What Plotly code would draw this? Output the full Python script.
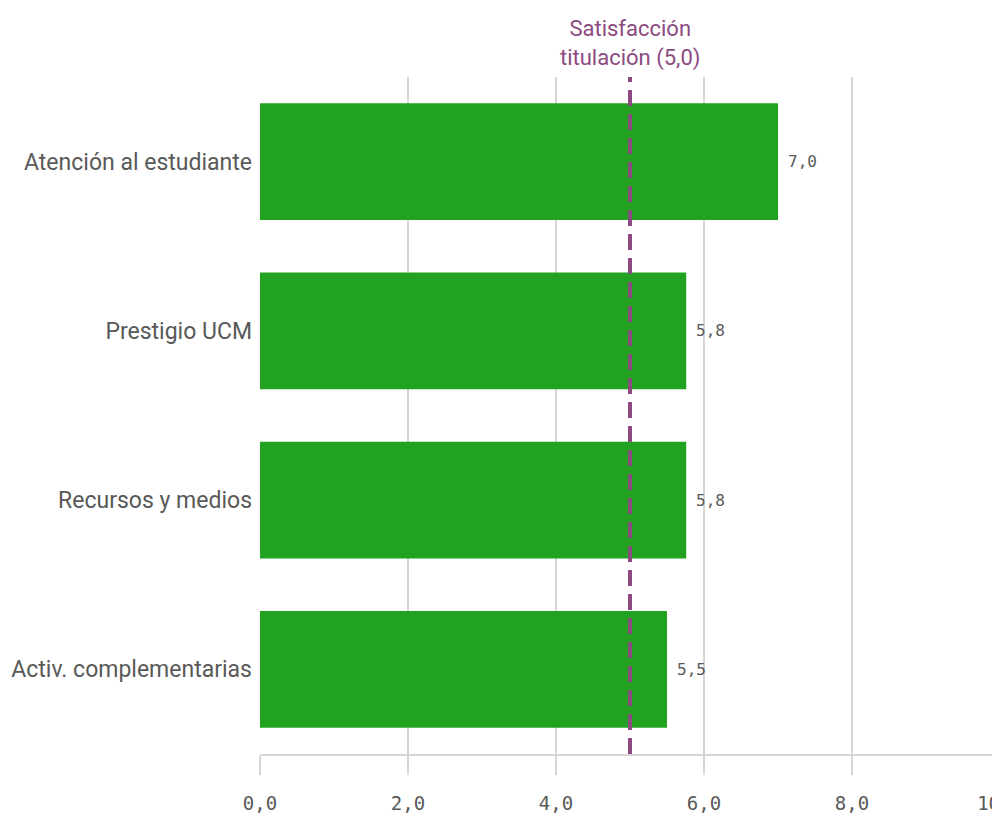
import plotly.graph_objects as go

categories = ["Atención al estudiante", "Prestigio UCM", "Recursos y medios", "Activ. complementarias"]
values = [7.0, 5.76, 5.76, 5.5]
reference_value = 5.0
reference_label = "Satisfacción<br>titulación (5,0)"
tick_values = [0, 2, 4, 6, 8, 10]

green = "#21a321"
purple = "#8c4a80"
grey_text = "#595959"
grid = "#d6d6d6"
mono = "DejaVu Sans Mono"

fig = go.Figure()
fig.add_trace(go.Bar(
    y=categories, x=values, orientation="h",
    marker=dict(color=green, line=dict(width=0)),
    hoverinfo="skip",
))

for cat, val in zip(categories, values):
    fig.add_annotation(x=val, y=cat, xref="x", yref="y", text=f"{val:.1f}".replace(".", ","),
                       showarrow=False, xanchor="left", xshift=8,
                       font=dict(family=mono, size=16, color=grey_text))

fig.add_shape(type="line", xref="x", yref="paper", x0=reference_value, x1=reference_value,
              y0=0, y1=1, line=dict(color=purple, width=4, dash="16px,8px"))
fig.add_annotation(x=reference_value, xref="x", y=1, yref="paper", yanchor="bottom",
                   text=reference_label, showarrow=False, yshift=4,
                   font=dict(family="Roboto", size=22, color=purple), align="center")

fig.update_layout(
    width=1050, height=831,
    margin=dict(l=260, r=50, t=77, b=77),
    plot_bgcolor="white", paper_bgcolor="white",
    separators=",.",
    bargap=0.31,
    showlegend=False,
    font=dict(family="Roboto", color=grey_text),
)
fig.update_xaxes(
    range=[0, 10], tickvals=tick_values, tickformat=".1f",
    showgrid=True, gridcolor=grid, gridwidth=2,
    showline=True, linecolor=grid, linewidth=2,
    ticks="outside", ticklen=19, tickcolor=grid, tickwidth=2,
    tickfont=dict(family=mono, size=19, color=grey_text),
    ticklabelstandoff=12,
    zeroline=False,
)
fig.update_yaxes(
    autorange="reversed", showgrid=False, showline=False, ticks="",
    tickfont=dict(family="Roboto", size=23, color=grey_text),
    ticklabelstandoff=7,
)

fig.write_html("out.html", config={"displayModeBar": False},
               post_script="document.body.style.margin='0';document.body.style.overflow='hidden';")
